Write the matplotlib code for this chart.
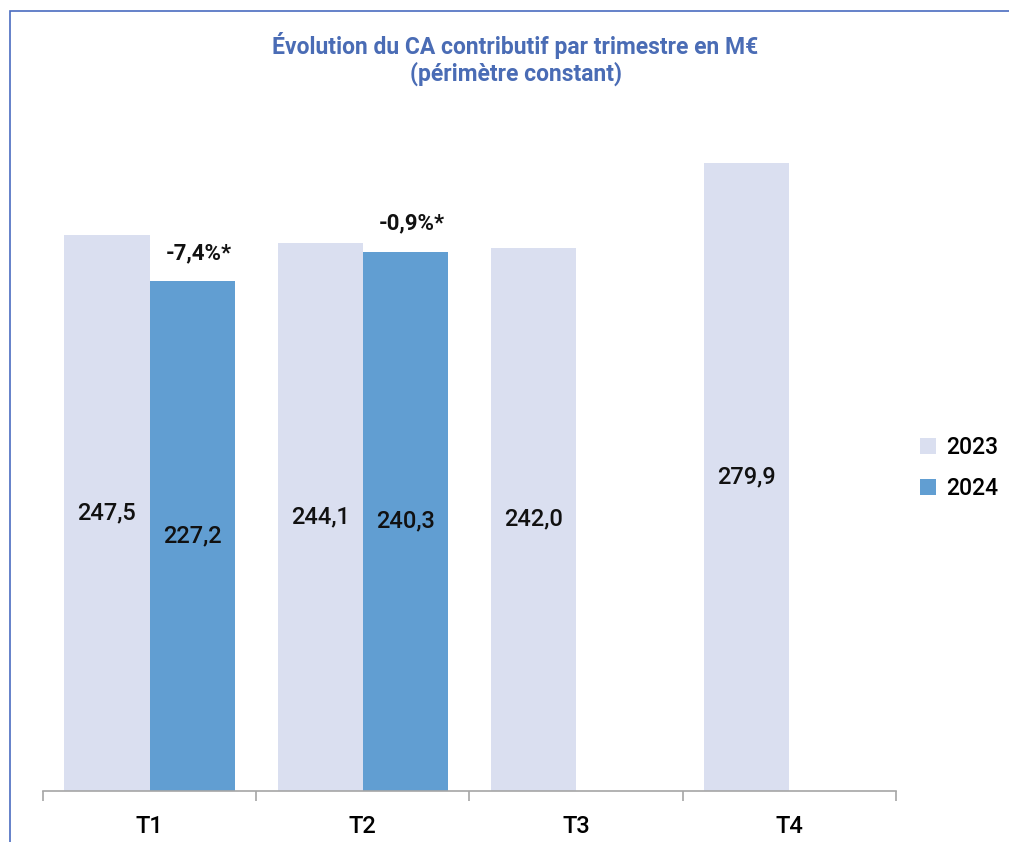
import matplotlib.pyplot as plt
import numpy as np
from matplotlib.patches import Rectangle

plt.rcParams['font.family'] = ['Roboto', 'DejaVu Sans']

quarters = ['T1', 'T2', 'T3', 'T4']
ca2023 = [247.5, 244.1, 242.0, 279.9]
ca2024 = [227.2, 240.3]
evolution = ['-7,4%*', '-0,9%*']

col2023 = '#dadff0'
col2024 = '#619ed2'
blue_title = '#4a6cb5'

fig = plt.figure(figsize=(10.09, 8.42), dpi=100)
ax = fig.add_axes([0.0426, 0.0606, 0.8454, 0.7998])

# bordure du cadre (coupée à droite et en bas)
fig.patches.append(Rectangle((10 / 1009, -0.1), 1.2, 1 - 11 / 842 + 0.1,
                             transform=fig.transFigure, fill=False,
                             edgecolor='#4a6cc0', linewidth=1.2))

x = np.arange(len(quarters))
width = 0.4

b1 = ax.bar(x - width / 2, ca2023, width, color=col2023, label='2023')
b2 = ax.bar(x[:len(ca2024)] + width / 2, ca2024, width, color=col2024, label='2024')

for rect, v in zip(list(b1) + list(b2), ca2023 + ca2024):
    ax.text(rect.get_x() + rect.get_width() / 2, v / 2,
            ('%.1f' % v).replace('.', ','), ha='center', va='center',
            fontsize=17, fontweight='medium', color='#111111')

for rect, txt in zip(b2, evolution):
    ax.annotate(txt, (rect.get_x() + rect.get_width() / 2 + 0.03, rect.get_height()),
                xytext=(0, 20), textcoords='offset points', ha='center', va='center',
                fontsize=16, fontweight='bold', color='#111111')

ax.set_xlim(-0.5, 3.5)
ax.set_ylim(0, 300)
ax.set_xticks(np.arange(-0.5, 4, 1))
ax.set_xticklabels([])
ax.set_xticks(x, minor=True)
ax.set_xticklabels(quarters, minor=True, fontsize=17, fontweight='medium')
ax.tick_params(axis='x', which='minor', length=0, pad=17)
ax.tick_params(axis='x', which='major', length=7, color='#a6a6a6', width=1.2)
ax.set_yticks([])
for s in ['top', 'right', 'left']:
    ax.spines[s].set_visible(False)
ax.spines['bottom'].set_color('#a6a6a6')
ax.spines['bottom'].set_linewidth(1.2)

fig.text(0.511, 1 - 59 / 842, 'Évolution du CA contributif par trimestre en M€\n(périmètre constant)',
         ha='center', va='center', fontsize=16.5, fontweight='bold', color=blue_title,
         linespacing=1.15)

leg = ax.legend(loc='center left', frameon=False, fontsize=16.5, handlelength=0.7,
                handleheight=0.7, labelspacing=0.8, handletextpad=0.45,
                borderpad=0, borderaxespad=0)
leg.set_bbox_to_anchor((920 / 1009, 1 - 468 / 842), transform=fig.transFigure)
for t in leg.get_texts():
    t.set_fontweight('medium')

fig.savefig('out.png', dpi=100)
